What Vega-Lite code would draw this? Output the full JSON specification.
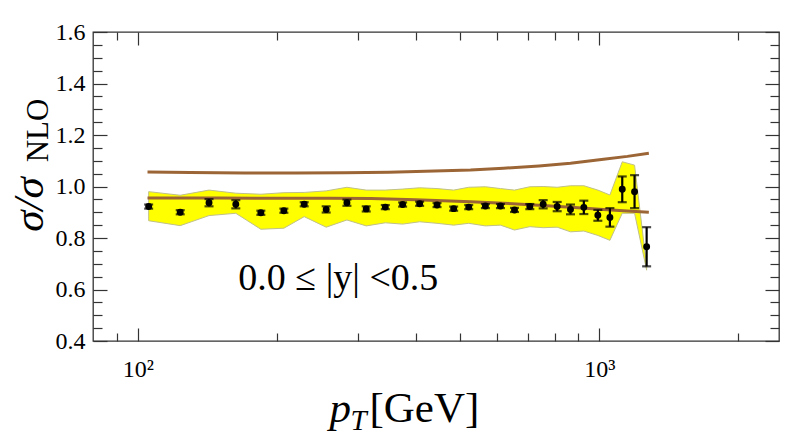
{
  "$schema": "https://vega.github.io/schema/vega-lite/v6.json",
  "width": 686,
  "height": 309,
  "autosize": {"type": "none"},
  "padding": {"left": 93, "top": 32, "right": 10, "bottom": 98},
  "background": "white",
  "config": {
    "view": {"stroke": "#333333", "strokeWidth": 1.3},
    "font": "Liberation Serif"
  },
  "datasets": {
    "pts": [
      {"pt": 105.6, "v": 0.922, "elo": 0.914, "ehi": 0.930, "blo": 0.867, "bhi": 0.980},
      {"pt": 123.6, "v": 0.900, "elo": 0.892, "ehi": 0.908, "blo": 0.848, "bhi": 0.966},
      {"pt": 142.7, "v": 0.937, "elo": 0.923, "ehi": 0.951, "blo": 0.887, "bhi": 0.986},
      {"pt": 163.1, "v": 0.931, "elo": 0.915, "ehi": 0.947, "blo": 0.896, "bhi": 0.974},
      {"pt": 184.8, "v": 0.898, "elo": 0.890, "ehi": 0.906, "blo": 0.834, "bhi": 0.970},
      {"pt": 207.3, "v": 0.906, "elo": 0.898, "ehi": 0.914, "blo": 0.838, "bhi": 0.976},
      {"pt": 229.4, "v": 0.931, "elo": 0.923, "ehi": 0.939, "blo": 0.883, "bhi": 0.977},
      {"pt": 256.0, "v": 0.911, "elo": 0.899, "ehi": 0.923, "blo": 0.842, "bhi": 0.983},
      {"pt": 283.9, "v": 0.937, "elo": 0.925, "ehi": 0.949, "blo": 0.870, "bhi": 0.997},
      {"pt": 312.6, "v": 0.913, "elo": 0.903, "ehi": 0.923, "blo": 0.847, "bhi": 0.986},
      {"pt": 343.8, "v": 0.920, "elo": 0.912, "ehi": 0.928, "blo": 0.859, "bhi": 0.986},
      {"pt": 374.8, "v": 0.930, "elo": 0.922, "ehi": 0.938, "blo": 0.854, "bhi": 0.990},
      {"pt": 408.0, "v": 0.933, "elo": 0.925, "ehi": 0.941, "blo": 0.863, "bhi": 0.995},
      {"pt": 445.0, "v": 0.928, "elo": 0.920, "ehi": 0.936, "blo": 0.857, "bhi": 0.992},
      {"pt": 483.5, "v": 0.914, "elo": 0.906, "ehi": 0.922, "blo": 0.850, "bhi": 0.986},
      {"pt": 521.2, "v": 0.920, "elo": 0.912, "ehi": 0.928, "blo": 0.857, "bhi": 0.997},
      {"pt": 566.4, "v": 0.924, "elo": 0.916, "ehi": 0.932, "blo": 0.847, "bhi": 0.999},
      {"pt": 610.6, "v": 0.924, "elo": 0.916, "ehi": 0.932, "blo": 0.850, "bhi": 0.992},
      {"pt": 654.9, "v": 0.909, "elo": 0.901, "ehi": 0.917, "blo": 0.831, "bhi": 0.986},
      {"pt": 706.9, "v": 0.922, "elo": 0.912, "ehi": 0.932, "blo": 0.844, "bhi": 0.999},
      {"pt": 755.6, "v": 0.931, "elo": 0.915, "ehi": 0.947, "blo": 0.840, "bhi": 1.000},
      {"pt": 810.3, "v": 0.922, "elo": 0.904, "ehi": 0.940, "blo": 0.842, "bhi": 0.997},
      {"pt": 865.9, "v": 0.911, "elo": 0.892, "ehi": 0.930, "blo": 0.824, "bhi": 1.003},
      {"pt": 925.5, "v": 0.919, "elo": 0.893, "ehi": 0.945, "blo": 0.827, "bhi": 1.003},
      {"pt": 992.5, "v": 0.888, "elo": 0.867, "ehi": 0.909, "blo": 0.810, "bhi": 0.986},
      {"pt": 1054, "v": 0.880, "elo": 0.844, "ehi": 0.916, "blo": 0.791, "bhi": 0.967},
      {"pt": 1121, "v": 0.989, "elo": 0.939, "ehi": 1.039, "blo": 0.896, "bhi": 1.096},
      {"pt": 1192, "v": 0.980, "elo": 0.916, "ehi": 1.044, "blo": 0.896, "bhi": 1.083},
      {"pt": 1266, "v": 0.766, "elo": 0.690, "ehi": 0.842, "blo": 0.675, "bhi": 0.690}
    ],
    "upper": [
      {"pt": 105, "r": 1.056}, {"pt": 130, "r": 1.054}, {"pt": 170, "r": 1.052},
      {"pt": 220, "r": 1.052}, {"pt": 280, "r": 1.053}, {"pt": 350, "r": 1.055},
      {"pt": 420, "r": 1.059}, {"pt": 526, "r": 1.064}, {"pt": 620, "r": 1.071},
      {"pt": 740, "r": 1.080}, {"pt": 866, "r": 1.090}, {"pt": 1021, "r": 1.106},
      {"pt": 1150, "r": 1.117}, {"pt": 1280, "r": 1.129}
    ],
    "lower": [
      {"pt": 105, "r": 0.955}, {"pt": 150, "r": 0.955}, {"pt": 200, "r": 0.954},
      {"pt": 260, "r": 0.954}, {"pt": 320, "r": 0.953}, {"pt": 400, "r": 0.949},
      {"pt": 526, "r": 0.941}, {"pt": 620, "r": 0.935}, {"pt": 740, "r": 0.927},
      {"pt": 866, "r": 0.919}, {"pt": 1021, "r": 0.911}, {"pt": 1150, "r": 0.905},
      {"pt": 1280, "r": 0.900}
    ],
    "ann": [{"pt": 272, "r": 0.6, "label": "0.0 ≤ |y| <0.5"}]
  },
  "resolve": {"axis": {"x": "independent", "y": "independent"}},
  "layer": [
    {
      "data": {"name": "pts"},
      "mark": {"type": "area", "color": "#ffff00", "stroke": "#c0c08a", "strokeWidth": 1, "opacity": 1},
      "encoding": {
        "x": {
          "field": "pt", "type": "quantitative",
          "scale": {"type": "log", "domain": [80, 2450], "nice": false},
          "axis": {
            "orient": "bottom", "domain": false, "grid": false,
            "values": [90, 100, 200, 300, 400, 500, 600, 700, 800, 900, 1000, 2000],
            "labelExpr": "datum.value == 100 ? '10²' : datum.value == 1000 ? '10³' : ''",
            "labelOverlap": false, "labelFlush": false,
            "tickSize": {"condition": {"test": "datum.value == 100 || datum.value == 1000", "value": -13}, "value": -8},
            "tickColor": "#333333", "tickWidth": 1.2,
            "labelFont": "Liberation Serif", "labelFontSize": 24, "labelColor": "black",
            "labelPadding": 29, "labelBaseline": "top",
            "title": "[GeV]", "titleFont": "Liberation Serif", "titleFontSize": 43,
            "titleFontWeight": "normal", "titleColor": "black",
            "titleX": 276, "titleY": 80, "titleAlign": "left", "titleBaseline": "alphabetic", "titleAnchor": null
          }
        },
        "y": {
          "field": "blo", "type": "quantitative",
          "scale": {"domain": [0.4, 1.6], "nice": false, "zero": false},
          "axis": {
            "orient": "left", "domain": false, "grid": false,
            "values": [0.4, 0.45, 0.5, 0.55, 0.6, 0.65, 0.7, 0.75, 0.8, 0.85, 0.9, 0.95, 1.0, 1.05, 1.1, 1.15, 1.2, 1.25, 1.3, 1.35, 1.4, 1.45, 1.5, 1.55, 1.6],
            "labelExpr": "abs(datum.value*5 - round(datum.value*5)) < 0.001 ? format(datum.value, '.1f') : ''",
            "labelOverlap": false, "labelFlush": false,
            "tickSize": {"condition": {"test": "abs(datum.value*5 - round(datum.value*5)) < 0.001", "value": -14}, "value": -9},
            "tickColor": "#333333", "tickWidth": 1.2,
            "labelFont": "Liberation Serif", "labelFontSize": 24, "labelColor": "black",
            "labelPadding": 22, "labelBaseline": "middle",
            "title": "σ/σ", "titleFont": "Liberation Serif", "titleFontSize": 43,
            "titleFontStyle": "italic", "titleFontWeight": "normal", "titleColor": "black",
            "titleAngle": 270, "titleX": -51, "titleY": 172, "titleAlign": "center", "titleBaseline": "alphabetic", "titleAnchor": null
          }
        },
        "y2": {"field": "bhi"}
      }
    },
    {
      "data": {"name": "upper"},
      "mark": {"type": "line", "color": "#9c6535", "strokeWidth": 3},
      "encoding": {
        "x": {
          "field": "pt", "type": "quantitative",
          "scale": {"type": "log", "domain": [80, 2450], "nice": false},
          "axis": {
            "orient": "top", "domain": false, "grid": false, "labels": false, "title": null,
            "values": [90, 100, 200, 300, 400, 500, 600, 700, 800, 900, 1000, 2000],
            "tickSize": {"condition": {"test": "datum.value == 100 || datum.value == 1000", "value": -13}, "value": -8},
            "tickColor": "#333333", "tickWidth": 1.2
          }
        },
        "y": {
          "field": "r", "type": "quantitative",
          "scale": {"domain": [0.4, 1.6], "nice": false, "zero": false},
          "axis": {
            "orient": "right", "domain": false, "grid": false, "labels": false, "title": null,
            "values": [0.4, 0.45, 0.5, 0.55, 0.6, 0.65, 0.7, 0.75, 0.8, 0.85, 0.9, 0.95, 1.0, 1.05, 1.1, 1.15, 1.2, 1.25, 1.3, 1.35, 1.4, 1.45, 1.5, 1.55, 1.6],
            "tickSize": {"condition": {"test": "abs(datum.value*5 - round(datum.value*5)) < 0.001", "value": -14}, "value": -9},
            "tickColor": "#333333", "tickWidth": 1.2
          }
        }
      }
    },
    {
      "data": {"name": "lower"},
      "mark": {"type": "line", "color": "#9c6535", "strokeWidth": 3},
      "encoding": {
        "x": {
          "field": "pt", "type": "quantitative",
          "scale": {"type": "log", "domain": [80, 2450], "nice": false},
          "axis": {
            "orient": "bottom", "domain": false, "grid": false, "labels": false, "ticks": false,
            "title": "p", "titleFont": "Liberation Serif", "titleFontSize": 43,
            "titleFontStyle": "italic", "titleFontWeight": "normal", "titleColor": "black",
            "titleX": 236, "titleY": 80, "titleAlign": "left", "titleBaseline": "alphabetic", "titleAnchor": null
          }
        },
        "y": {
          "field": "r", "type": "quantitative",
          "scale": {"domain": [0.4, 1.6], "nice": false, "zero": false},
          "axis": {
            "orient": "left", "domain": false, "grid": false, "labels": false, "ticks": false,
            "title": "NLO", "titleFont": "Liberation Serif", "titleFontSize": 31,
            "titleFontWeight": "normal", "titleColor": "black",
            "titleAngle": 270, "titleX": -46, "titleY": 98, "titleAlign": "center", "titleBaseline": "alphabetic", "titleAnchor": null
          }
        }
      }
    },
    {
      "mark": {"type": "rule", "color": "#4a4aa8", "strokeWidth": 2, "strokeDash": [11, 7]},
      "encoding": {
        "y": {"datum": 1, "type": "quantitative", "scale": {"domain": [0.4, 1.6], "nice": false, "zero": false}, "axis": null}
      }
    },
    {
      "data": {"name": "pts"},
      "mark": {"type": "rule", "color": "black", "strokeWidth": 2.2},
      "encoding": {
        "x": {
          "field": "pt", "type": "quantitative",
          "scale": {"type": "log", "domain": [80, 2450], "nice": false},
          "axis": {
            "orient": "bottom", "domain": false, "grid": false, "labels": false, "ticks": false,
            "title": "T", "titleFont": "Liberation Serif", "titleFontSize": 29,
            "titleFontStyle": "italic", "titleFontWeight": "normal", "titleColor": "black",
            "titleX": 257, "titleY": 88, "titleAlign": "left", "titleBaseline": "alphabetic", "titleAnchor": null
          }
        },
        "y": {"field": "elo", "type": "quantitative", "scale": {"domain": [0.4, 1.6], "nice": false, "zero": false}, "axis": null},
        "y2": {"field": "ehi"}
      }
    },
    {
      "data": {"name": "pts"},
      "mark": {"type": "tick", "orient": "horizontal", "color": "black", "size": 9, "thickness": 2.2},
      "encoding": {
        "x": {"field": "pt", "type": "quantitative", "scale": {"type": "log", "domain": [80, 2450], "nice": false}, "axis": null},
        "y": {"field": "elo", "type": "quantitative", "scale": {"domain": [0.4, 1.6], "nice": false, "zero": false}, "axis": null}
      }
    },
    {
      "data": {"name": "pts"},
      "mark": {"type": "tick", "orient": "horizontal", "color": "black", "size": 9, "thickness": 2.2},
      "encoding": {
        "x": {"field": "pt", "type": "quantitative", "scale": {"type": "log", "domain": [80, 2450], "nice": false}, "axis": null},
        "y": {"field": "ehi", "type": "quantitative", "scale": {"domain": [0.4, 1.6], "nice": false, "zero": false}, "axis": null}
      }
    },
    {
      "data": {"name": "pts"},
      "mark": {"type": "circle", "color": "black", "size": 48, "opacity": 1},
      "encoding": {
        "x": {"field": "pt", "type": "quantitative", "scale": {"type": "log", "domain": [80, 2450], "nice": false}, "axis": null},
        "y": {"field": "v", "type": "quantitative", "scale": {"domain": [0.4, 1.6], "nice": false, "zero": false}, "axis": null}
      }
    },
    {
      "data": {"name": "ann"},
      "mark": {"type": "text", "font": "Liberation Serif", "fontSize": 38, "color": "black", "align": "center", "baseline": "alphabetic"},
      "encoding": {
        "x": {"field": "pt", "type": "quantitative", "scale": {"type": "log", "domain": [80, 2450], "nice": false}, "axis": null},
        "y": {"field": "r", "type": "quantitative", "scale": {"domain": [0.4, 1.6], "nice": false, "zero": false}, "axis": null},
        "text": {"field": "label"}
      }
    }
  ]
}
